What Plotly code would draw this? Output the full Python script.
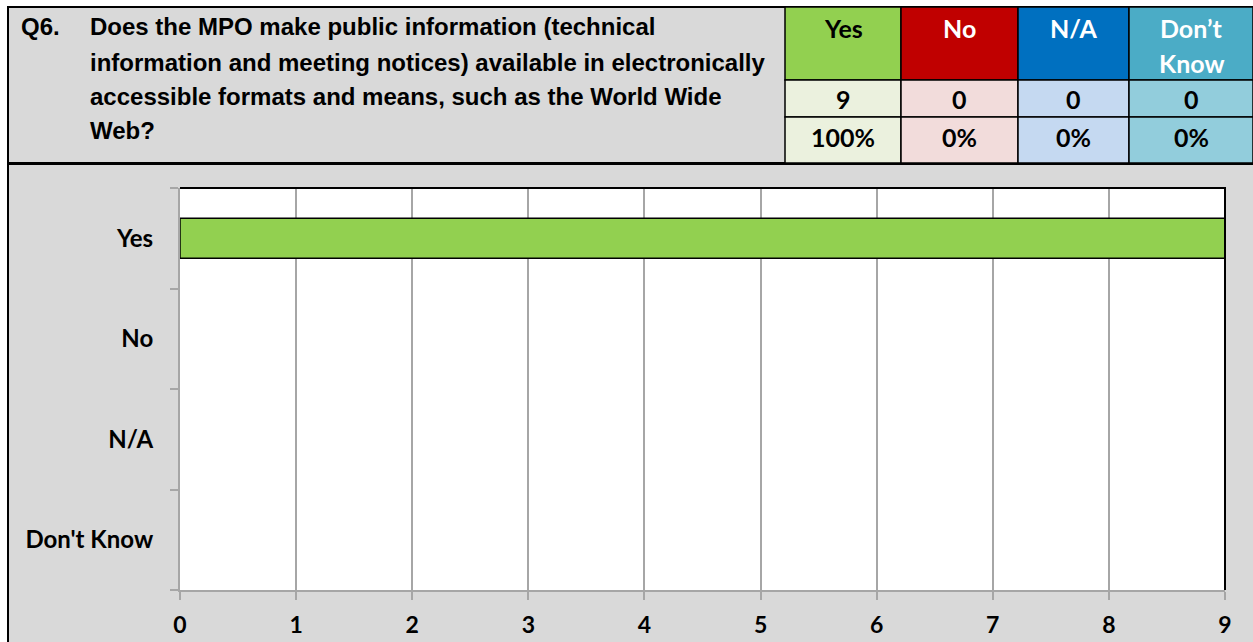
import plotly.graph_objects as go

# ---- data ----
categories = ["Yes", "No", "N/A", "Don't Know"]
counts = [9, 0, 0, 0]
percent_labels = ["100%", "0%", "0%", "0%"]
header_labels = ["Yes", "No", "N/A", "Don\u2019t<br>Know"]
question_lines = [
    "Does the MPO make public information (technical",
    "information and meeting notices) available in electronically",
    "accessible formats and means, such as the World Wide",
    "Web?",
]
question_id = "Q6."
x_ticks = list(range(0, 10))

W, H = 1253, 642
def px(x):
    return x / W
def py(y):
    return 1 - y / H

head_colors = ["#92D050", "#C00000", "#0070C0", "#4BACC6"]
light_colors = ["#EBF1DE", "#F2DCDB", "#C5D9F1", "#92CDDC"]
head_font_colors = ["#000000", "#FFFFFF", "#FFFFFF", "#FFFFFF"]
col_edges = [785, 901, 1018, 1129, 1253]
GRAY = "#D9D9D9"
TFONT = "Lato"
HFONT = "Liberation Sans"

fig = go.Figure()
fig.add_trace(go.Bar(
    y=categories, x=counts, orientation="h",
    marker=dict(color="#92D050",
                line=dict(color=["#000000" if c > 0 else "rgba(0,0,0,0)" for c in counts],
                          width=1.5)),
    hoverinfo="x+y", showlegend=False,
))

shapes = []
annotations = []

# background panels
shapes.append(dict(type="rect", xref="paper", yref="paper", layer="below",
                   x0=px(8), x1=px(1254), y0=py(164), y1=py(643),
                   fillcolor=GRAY, line=dict(color="#000000", width=2)))
shapes.append(dict(type="rect", xref="paper", yref="paper", layer="below",
                   x0=px(8), x1=px(1254), y0=py(7), y1=py(163),
                   fillcolor=GRAY, line=dict(color="#000000", width=2)))
# plot area white
shapes.append(dict(type="rect", xref="paper", yref="paper", layer="below",
                   x0=px(180), x1=px(1225), y0=py(590), y1=py(188),
                   fillcolor="#FFFFFF", line=dict(width=0)))

# table
rows = [(7, 80), (80, 117), (117, 163)]
for i in range(4):
    x0, x1 = col_edges[i], col_edges[i + 1]
    shapes.append(dict(type="rect", xref="paper", yref="paper",
                       x0=px(x0), x1=px(x1), y0=py(rows[0][1]), y1=py(rows[0][0]),
                       fillcolor=head_colors[i], line=dict(color="#000000", width=1.5)))
    for r in (1, 2):
        shapes.append(dict(type="rect", xref="paper", yref="paper",
                           x0=px(x0), x1=px(x1), y0=py(rows[r][1]), y1=py(rows[r][0]),
                           fillcolor=light_colors[i], line=dict(color="#000000", width=1.5)))
    cx = px((x0 + x1) / 2)
    for k, part in enumerate(header_labels[i].split("<br>")):
        annotations.append(dict(x=cx, y=py(28 + 35 * k), xref="paper", yref="paper",
                                text="<b>%s</b>" % part, showarrow=False,
                                xanchor="center", yanchor="middle", align="center",
                                font=dict(family=TFONT, size=25, color=head_font_colors[i])))
    annotations.append(dict(x=cx, y=py(99), xref="paper", yref="paper",
                            text="<b>%d</b>" % counts[i], showarrow=False,
                            xanchor="center", yanchor="middle",
                            font=dict(family=TFONT, size=25, color="#000000")))
    annotations.append(dict(x=cx, y=py(137), xref="paper", yref="paper",
                            text="<b>%s</b>" % percent_labels[i], showarrow=False,
                            xanchor="center", yanchor="middle",
                            font=dict(family=TFONT, size=25, color="#000000")))

# question text
line_y = [27, 62, 96, 130]
annotations.append(dict(x=px(19), y=py(line_y[0]), xref="paper", yref="paper",
                        text="<b>%s</b>" % question_id, showarrow=False,
                        xanchor="left", yanchor="middle",
                        font=dict(family=HFONT, size=24, color="#000000")))
for ln, yy in zip(question_lines, line_y):
    annotations.append(dict(x=px(88), y=py(yy), xref="paper", yref="paper",
                            text="<b>%s</b>" % ln, showarrow=False,
                            xanchor="left", yanchor="middle",
                            font=dict(family=HFONT, size=24, color="#000000")))

# black top and right border of plot area
shapes.append(dict(type="line", xref="paper", yref="paper",
                   x0=px(180), x1=px(1226), y0=py(188), y1=py(188),
                   line=dict(color="#000000", width=2)))
shapes.append(dict(type="line", xref="paper", yref="paper",
                   x0=px(1225), x1=px(1225), y0=py(188), y1=py(590),
                   line=dict(color="#000000", width=2)))

fig.update_layout(
    width=W, height=H,
    margin=dict(l=0, r=0, t=0, b=0, pad=0, autoexpand=False),
    paper_bgcolor="#FFFFFF",
    plot_bgcolor="rgba(0,0,0,0)",
    bargap=0.6,
    shapes=shapes,
    annotations=annotations,
    xaxis=dict(domain=[px(180), px(1225)], range=[0, 9],
               tickvals=x_ticks, ticktext=["<b>%d</b>" % v for v in x_ticks],
               showgrid=True, gridcolor="#A6A6A6", gridwidth=2,
               showline=True, linecolor="#A6A6A6", linewidth=2,
               ticks="outside", ticklen=8, tickcolor="#A6A6A6", tickwidth=2,
               ticklabelstandoff=5, automargin=False,
               zeroline=False, fixedrange=True,
               tickfont=dict(family=TFONT, size=23, color="#000000")),
    yaxis=dict(domain=[py(590), py(188)],
               categoryorder="array", categoryarray=categories, autorange="reversed",
               ticktext=["<b>%s</b>" % c for c in categories], tickvals=categories,
               tickson="boundaries",
               showgrid=False,
               showline=True, linecolor="#A6A6A6", linewidth=2,
               ticks="outside", ticklen=8, tickcolor="#A6A6A6", tickwidth=2,
               ticklabelstandoff=20, automargin=False,
               fixedrange=True,
               tickfont=dict(family=TFONT, size=24, color="#000000")),
)

fig.write_html(
    "out.html",
    config={"displayModeBar": False},
    post_script="document.body.style.margin='0';document.body.style.overflow='hidden';"
                "document.documentElement.style.overflow='hidden';",
)
